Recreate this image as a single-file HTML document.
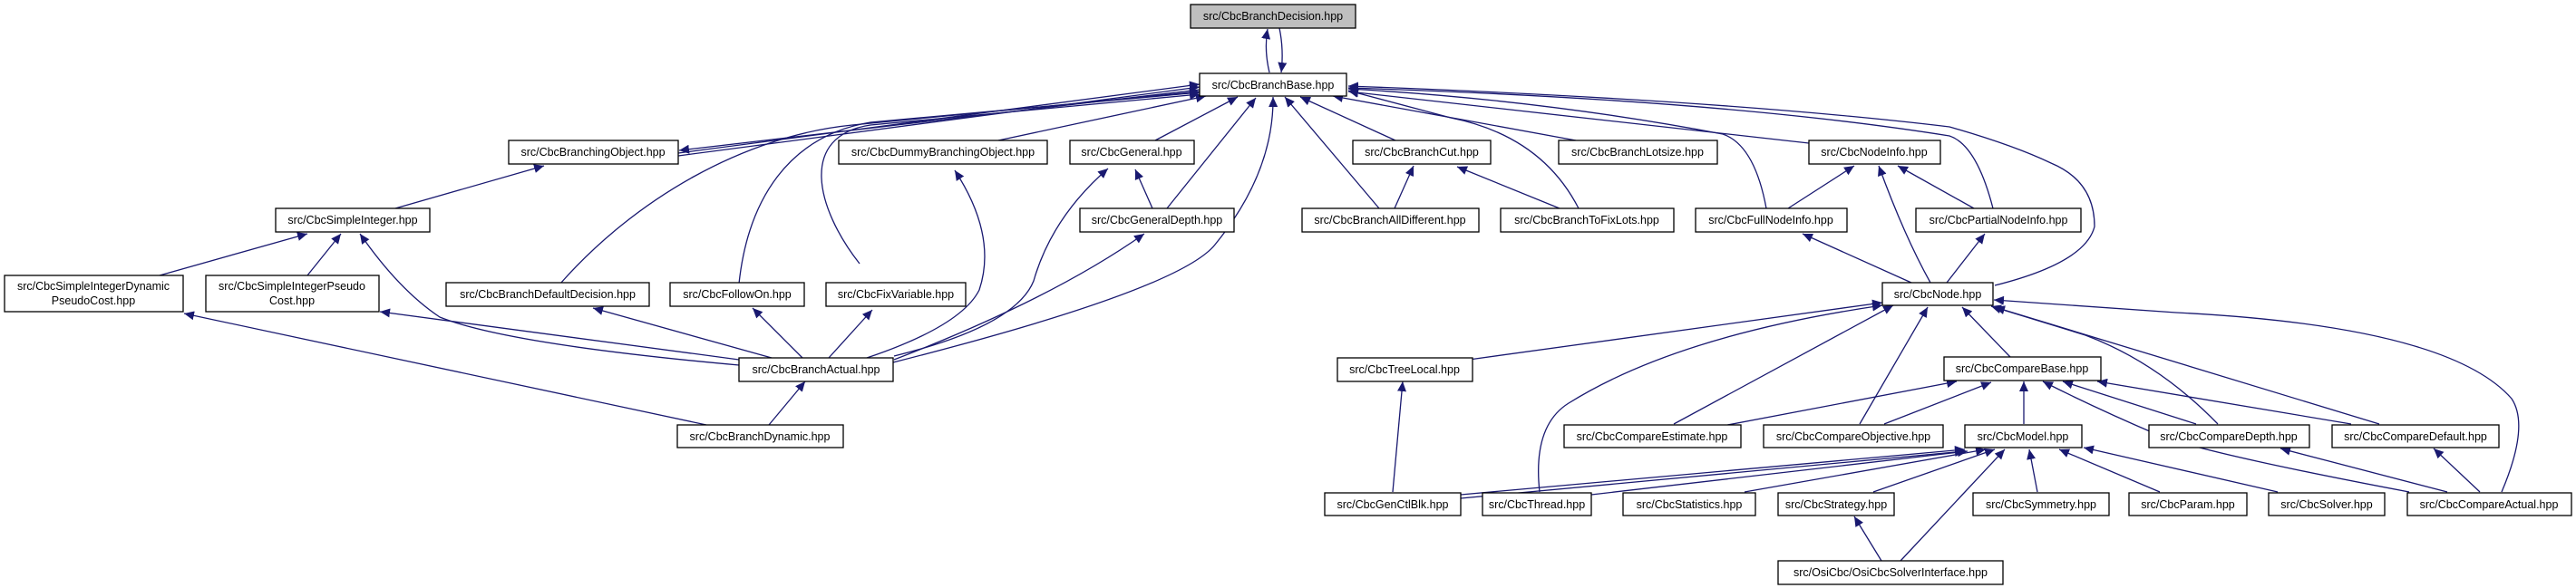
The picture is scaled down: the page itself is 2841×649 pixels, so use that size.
<!DOCTYPE html>
<html><head><meta charset="utf-8"><style>
html,body{margin:0;padding:0;background:#fff;}
svg{display:block;}
text{font-family:"Liberation Sans",Arial,sans-serif;font-size:12.5px;fill:#000;}
.e{fill:none;stroke:#191970;stroke-width:1.3;}
.b{fill:#fff;stroke:#000;stroke-width:1.3;}
</style></head><body>
<svg width="2841" height="649" viewBox="0 0 2841 649" xmlns="http://www.w3.org/2000/svg">
<defs>
<marker id="a" markerUnits="userSpaceOnUse" markerWidth="12" markerHeight="10" refX="11" refY="5" orient="auto">
<path d="M0,0 L11,5 L0,10 z" fill="#191970"/>
</marker>
</defs>
<g class="e" marker-end="url(#a)">
<path d="M1400,80 Q1394,55 1398,32"/>
<path d="M1411,31 Q1416,55 1413,80"/>
<path d="M748,172 L1323,96"/>
<path d="M748,169 L1323,93"/>
<path d="M1323,99 L749,166"/>
<path d="M618,313 C700,220 820,150 940,138 L1323,101"/>
<path d="M815,313 C825,220 870,150 960,135 L1323,102"/>
<path d="M948,291 C900,230 880,150 960,138 L1323,104"/>
<path d="M1101,155 L1330,106"/>
<path d="M1274,155 L1365,107"/>
<path d="M1287,230 L1385,108"/>
<path d="M985,400 Q1300,320 1340,270 Q1405,190 1404,107"/>
<path d="M1539,155 L1434,107"/>
<path d="M1521,230 L1417,107"/>
<path d="M1738,155 L1470,106"/>
<path d="M1741,230 Q1700,150 1600,130 L1487,100"/>
<path d="M1995,158 L1487,101"/>
<path d="M1948,230 Q1935,160 1900,148 Q1700,110 1487,98"/>
<path d="M2198,230 Q2180,160 2150,150 Q1900,110 1487,97"/>
<path d="M2200,315 Q2300,290 2310,250 Q2310,200 2262,180 Q2220,160 2150,140 Q1900,110 1487,95"/>
<path d="M436,230 L600,183"/>
<path d="M956,395 Q1060,360 1080,320 Q1100,260 1053,188"/>
<path d="M986,393 Q1120,360 1140,310 Q1160,240 1222,186"/>
<path d="M1271,230 L1252,187"/>
<path d="M986,397 Q1160,330 1262,258"/>
<path d="M914,395 L962,342"/>
<path d="M885,395 L830,340"/>
<path d="M851,395 L654,340"/>
<path d="M815,397 L419,344"/>
<path d="M815,403 Q560,380 485,350 Q440,320 397,258"/>
<path d="M339,304 L376,258"/>
<path d="M176,304 L339,258"/>
<path d="M779,469 L203,346"/>
<path d="M848,469 L888,421"/>
<path d="M1538,230 L1559,183"/>
<path d="M1720,230 L1607,184"/>
<path d="M1972,230 L2045,183"/>
<path d="M2177,230 L2093,183"/>
<path d="M2129,312 Q2100,260 2072,183"/>
<path d="M2108,312 L1988,258"/>
<path d="M2147,312 L2189,258"/>
<path d="M1620,397 L2076,334"/>
<path d="M1698,543 Q1690,470 1730,445 Q1850,370 2076,337"/>
<path d="M1846,468 L2088,337"/>
<path d="M2051,468 L2126,339"/>
<path d="M2217,394 L2164,339"/>
<path d="M2446,468 Q2380,400 2300,370 L2196,338"/>
<path d="M2624,468 L2200,339"/>
<path d="M2759,543 Q2790,470 2770,440 Q2700,360 2400,345 L2199,331"/>
<path d="M1900,470 L2158,421"/>
<path d="M2078,468 L2196,422"/>
<path d="M2232,468 L2232,421"/>
<path d="M2422,468 L2275,421"/>
<path d="M2593,468 L2313,421"/>
<path d="M2657,543 Q2430,500 2380,480 Q2310,450 2253,421"/>
<path d="M2699,543 L2515,495"/>
<path d="M2735,543 L2684,495"/>
<path d="M1536,543 L1547,421"/>
<path d="M1611,546 L2167,496"/>
<path d="M1611,550 L2167,498"/>
<path d="M1755,546 L2170,498"/>
<path d="M1924,543 L2190,496"/>
<path d="M2066,543 L2200,496"/>
<path d="M2096,619 L2211,496"/>
<path d="M2247,543 L2238,496"/>
<path d="M2382,543 L2271,496"/>
<path d="M2512,543 L2298,494"/>
<path d="M2075,619 L2045,570"/>
</g>
<g>
<rect x="1313" y="5" width="182" height="26" fill="#bfbfbf" stroke="#000" stroke-width="1.3"/>
<text x="1404" y="22" text-anchor="middle">src/CbcBranchDecision.hpp</text>
<rect class="b" x="1323" y="81" width="162" height="25"/><text x="1404" y="98" text-anchor="middle">src/CbcBranchBase.hpp</text>

<rect class="b" x="561" y="155" width="187" height="26"/><text x="654" y="172" text-anchor="middle">src/CbcBranchingObject.hpp</text>
<rect class="b" x="925" y="155" width="230" height="26"/><text x="1040" y="172" text-anchor="middle">src/CbcDummyBranchingObject.hpp</text>
<rect class="b" x="1180" y="155" width="137" height="26"/><text x="1248" y="172" text-anchor="middle">src/CbcGeneral.hpp</text>
<rect class="b" x="1492" y="155" width="152" height="26"/><text x="1568" y="172" text-anchor="middle">src/CbcBranchCut.hpp</text>
<rect class="b" x="1719" y="155" width="175" height="26"/><text x="1806" y="172" text-anchor="middle">src/CbcBranchLotsize.hpp</text>
<rect class="b" x="1995" y="155" width="145" height="26"/><text x="2067" y="172" text-anchor="middle">src/CbcNodeInfo.hpp</text>

<rect class="b" x="304" y="230" width="170" height="26"/><text x="389" y="247" text-anchor="middle">src/CbcSimpleInteger.hpp</text>
<rect class="b" x="1191" y="230" width="170" height="26"/><text x="1276" y="247" text-anchor="middle">src/CbcGeneralDepth.hpp</text>
<rect class="b" x="1436" y="230" width="195" height="26"/><text x="1533" y="247" text-anchor="middle">src/CbcBranchAllDifferent.hpp</text>
<rect class="b" x="1655" y="230" width="191" height="26"/><text x="1750" y="247" text-anchor="middle">src/CbcBranchToFixLots.hpp</text>
<rect class="b" x="1870" y="230" width="167" height="26"/><text x="1953" y="247" text-anchor="middle">src/CbcFullNodeInfo.hpp</text>
<rect class="b" x="2113" y="230" width="182" height="26"/><text x="2204" y="247" text-anchor="middle">src/CbcPartialNodeInfo.hpp</text>

<rect class="b" x="5" y="304" width="197" height="40"/><text x="103" y="320" text-anchor="middle">src/CbcSimpleIntegerDynamic</text><text x="103" y="336" text-anchor="middle">PseudoCost.hpp</text>
<rect class="b" x="227" y="304" width="191" height="40"/><text x="322" y="320" text-anchor="middle">src/CbcSimpleIntegerPseudo</text><text x="322" y="336" text-anchor="middle">Cost.hpp</text>
<rect class="b" x="492" y="312" width="224" height="26"/><text x="604" y="329" text-anchor="middle">src/CbcBranchDefaultDecision.hpp</text>
<rect class="b" x="739" y="312" width="148" height="26"/><text x="813" y="329" text-anchor="middle">src/CbcFollowOn.hpp</text>
<rect class="b" x="911" y="312" width="154" height="26"/><text x="988" y="329" text-anchor="middle">src/CbcFixVariable.hpp</text>
<rect class="b" x="2076" y="312" width="122" height="25"/><text x="2137" y="329" text-anchor="middle">src/CbcNode.hpp</text>

<rect class="b" x="815" y="395" width="170" height="26"/><text x="900" y="412" text-anchor="middle">src/CbcBranchActual.hpp</text>
<rect class="b" x="1475" y="395" width="149" height="26"/><text x="1549" y="412" text-anchor="middle">src/CbcTreeLocal.hpp</text>
<rect class="b" x="2144" y="394" width="173" height="26"/><text x="2230" y="411" text-anchor="middle">src/CbcCompareBase.hpp</text>

<rect class="b" x="747" y="469" width="183" height="25"/><text x="838" y="486" text-anchor="middle">src/CbcBranchDynamic.hpp</text>
<rect class="b" x="1725" y="469" width="195" height="25"/><text x="1822" y="486" text-anchor="middle">src/CbcCompareEstimate.hpp</text>
<rect class="b" x="1945" y="469" width="198" height="25"/><text x="2044" y="486" text-anchor="middle">src/CbcCompareObjective.hpp</text>
<rect class="b" x="2167" y="469" width="129" height="25"/><text x="2231" y="486" text-anchor="middle">src/CbcModel.hpp</text>
<rect class="b" x="2370" y="469" width="177" height="25"/><text x="2458" y="486" text-anchor="middle">src/CbcCompareDepth.hpp</text>
<rect class="b" x="2572" y="469" width="184" height="25"/><text x="2664" y="486" text-anchor="middle">src/CbcCompareDefault.hpp</text>

<rect class="b" x="1461" y="544" width="150" height="25"/><text x="1536" y="561" text-anchor="middle">src/CbcGenCtlBlk.hpp</text>
<rect class="b" x="1635" y="544" width="120" height="25"/><text x="1695" y="561" text-anchor="middle">src/CbcThread.hpp</text>
<rect class="b" x="1790" y="544" width="146" height="25"/><text x="1863" y="561" text-anchor="middle">src/CbcStatistics.hpp</text>
<rect class="b" x="1961" y="544" width="128" height="25"/><text x="2025" y="561" text-anchor="middle">src/CbcStrategy.hpp</text>
<rect class="b" x="2176" y="544" width="150" height="25"/><text x="2251" y="561" text-anchor="middle">src/CbcSymmetry.hpp</text>
<rect class="b" x="2348" y="544" width="130" height="25"/><text x="2413" y="561" text-anchor="middle">src/CbcParam.hpp</text>
<rect class="b" x="2502" y="544" width="128" height="25"/><text x="2566" y="561" text-anchor="middle">src/CbcSolver.hpp</text>
<rect class="b" x="2655" y="544" width="181" height="25"/><text x="2745" y="561" text-anchor="middle">src/CbcCompareActual.hpp</text>

<rect class="b" x="1961" y="619" width="248" height="26"/><text x="2085" y="636" text-anchor="middle">src/OsiCbc/OsiCbcSolverInterface.hpp</text>
</g>
</svg>
</body></html>
